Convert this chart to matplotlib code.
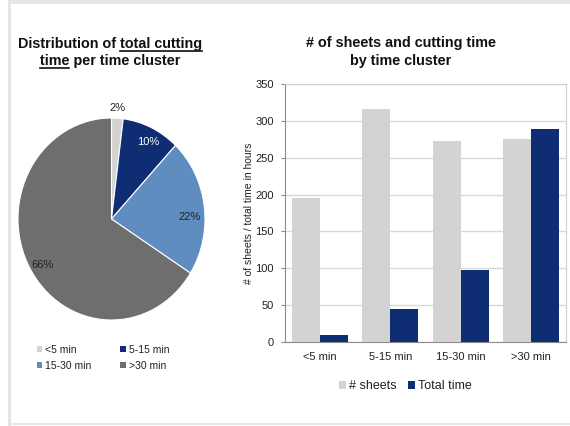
import matplotlib
matplotlib.use("Agg")
import matplotlib.pyplot as plt
from matplotlib.patches import Rectangle, Patch
from matplotlib.lines import Line2D
import numpy as np

plt.rcParams['font.family'] = ['Liberation Sans', 'DejaVu Sans']

# ---- data ----
pie_labels = ["<5 min", "5-15 min", "15-30 min", ">30 min"]
pie_values = [2, 10, 22, 66]
pie_colors = ["#D3D3D3", "#0E2D72", "#5F8DC0", "#6E6E6E"]

categories = ["<5 min", "5-15 min", "15-30 min", ">30 min"]
sheets = [196, 316, 273, 275]
total_time = [10, 45, 98, 289]
yticks = [0, 50, 100, 150, 200, 250, 300, 350]

W, H = 570, 426
fig = plt.figure(figsize=(W / 100, H / 100), dpi=100)

def fx(x):
    return x / W

def fy(y):
    return 1 - y / H

# ---- frame border ----
border = "#E3E6EB"
fig.patches.append(Rectangle((fx(8), fy(426)), 3 / W, 426 / H, transform=fig.transFigure,
                             facecolor=border, edgecolor='none'))
fig.patches.append(Rectangle((fx(8), fy(4)), (W - 8) / W, 4 / H, transform=fig.transFigure,
                             facecolor=border, edgecolor='none'))
fig.patches.append(Rectangle((fx(8), fy(425)), (W - 8) / W, 2 / H, transform=fig.transFigure,
                             facecolor=border, edgecolor='none'))

# ---- pie ----
axp = fig.add_axes([fx(18), fy(320), (205 - 18) / W, (320 - 118) / H])
wedges, texts, autotexts = axp.pie(
    pie_values, colors=pie_colors, startangle=90, counterclock=False,
    autopct=lambda p: f"{p:.0f}%", pctdistance=0.85,
    wedgeprops=dict(edgecolor='white', linewidth=0.8),
    textprops=dict(fontsize=8, color='#222222'))
axp.set_aspect('auto')
axp.set_xlim(-1, 1)
axp.set_ylim(-1, 1)
# label placement tweaks (radius, angle offset in degrees) per slice
label_pos = [(1.1, 0.0), (0.86, -2.0), (0.84, -6.0), (0.87, 2.6)]
for w, t, (rad, dang) in zip(wedges, autotexts, label_pos):
    ang = np.deg2rad((w.theta1 + w.theta2) / 2 + dang)
    t.set_position((rad * np.cos(ang), rad * np.sin(ang)))
autotexts[1].set_color('white')

handles = [Patch(facecolor=c, edgecolor='none') for c in pie_colors]
order = [0, 2, 1, 3]
fig.legend([handles[i] for i in order], [pie_labels[i] for i in order],
           loc='center', bbox_to_anchor=(fx(103), fy(358)), ncol=2, frameon=False,
           fontsize=7.5, handlelength=0.5, handleheight=0.5, handletextpad=0.3,
           columnspacing=2.8, labelspacing=0.55, labelcolor='#222222')

# ---- bars ----
axb = fig.add_axes([fx(285), fy(342), (566 - 285) / W, (342 - 84) / H])
x = np.arange(len(categories))
bw = 0.4
axb.bar(x - bw / 2, sheets, width=bw, color="#D3D3D3", label="# sheets", zorder=3)
axb.bar(x + bw / 2, total_time, width=bw, color="#0E2D72", label="Total time", zorder=3)
axb.set_xlim(-0.5, len(categories) - 0.5)
axb.set_ylim(0, 350)
axb.set_yticks(yticks)
axb.set_xticks(x)
axb.set_xticklabels(categories)
axb.yaxis.grid(True, color='#D9D9D9', linewidth=1, zorder=0)
axb.set_axisbelow(True)
axb.tick_params(axis='y', labelsize=8, colors='#222222', length=3, color='#8C8C8C', pad=5)
axb.tick_params(axis='x', labelsize=8, colors='#222222', length=0, pad=7)
for s in ['top', 'right']:
    axb.spines[s].set_color('#D0D0D0')
for s in ['left', 'bottom']:
    axb.spines[s].set_color('#8C8C8C')
axb.set_ylabel("# of sheets / total time in hours", fontsize=7.5, color='#222222', labelpad=1)

fig.legend(*axb.get_legend_handles_labels(), loc='center', bbox_to_anchor=(fx(405), fy(386)),
           ncol=2, frameon=False, fontsize=9, handlelength=0.6, handleheight=0.6,
           handletextpad=0.2, columnspacing=0.9, labelcolor='#222222')

# ---- titles ----
tfont = dict(fontsize=10.4, fontweight='bold', color='#111111')
fig.text(fx(401), fy(47), "# of sheets and cutting time", ha='center', va='baseline', **tfont)
fig.text(fx(401), fy(65), "by time cluster", ha='center', va='baseline', **tfont)

l1 = fig.text(fx(110), fy(48), "Distribution of total cutting", ha='center', va='baseline', **tfont)
l2 = fig.text(fx(110), fy(65), "time per time cluster", ha='center', va='baseline', **tfont)

fig.canvas.draw()
r = fig.canvas.get_renderer()

def width_px(s):
    t = fig.text(0, 0, s, **tfont)
    w = t.get_window_extent(r).width
    t.remove()
    return w

b1 = l1.get_window_extent(r)
wu = width_px("total cutting")
fig.add_artist(Line2D([fx(b1.x1 - wu), fx(b1.x1)], [fy(51), fy(51)], transform=fig.transFigure,
                      color='#111111', linewidth=1.2))
b2 = l2.get_window_extent(r)
wt = width_px("time")
fig.add_artist(Line2D([fx(b2.x0), fx(b2.x0 + wt)], [fy(68), fy(68)], transform=fig.transFigure,
                      color='#111111', linewidth=1.2))

fig.savefig("out.png", dpi=100)
